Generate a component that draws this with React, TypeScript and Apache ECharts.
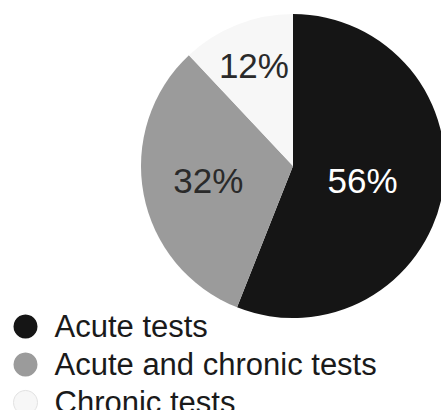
import React, { useEffect, useRef } from "react";
import * as echarts from "echarts";

const categories = ["Acute tests", "Acute and chronic tests", "Chronic tests"];
const values = [56, 32, 12];
const sliceColors = ["#151515", "#9b9b9b", "#f7f7f7"];
const labelColors = ["#ffffff", "#2a2a2a", "#2a2a2a"];
const labelPaddings = [
  [0, 16, 0, 0],
  [0, 14, 0, 0],
  [0, 20, 0, 0],
];
const labelExtraLines = ["", "", "\n\n"];
const labelLineHeights = [35, 35, 27];

export default function App() {
  const ref = useRef<HTMLDivElement>(null);
  useEffect(() => {
    if (!ref.current) return;
    const chart = echarts.init(ref.current, null, { renderer: "svg" });
    const font = "'Liberation Sans', Arial, sans-serif";
    chart.setOption({
      animation: false,
      backgroundColor: "#ffffff",
      legend: {
        orient: "vertical",
        left: 13,
        top: 311,
        height: 150,
        padding: 0,
        itemWidth: 24,
        itemHeight: 24,
        itemGap: 7,
        icon: "circle",
        textStyle: {
          fontFamily: font,
          fontSize: 31,
          lineHeight: 28,
          color: "#1a1a1a",
          padding: [0, 0, 0, 12],
        },
        data: categories.map((c, i) => ({
          name: c,
          itemStyle:
            i === 2 ? { color: "#f7f7f7", borderColor: "#e2e2e2", borderWidth: 1 } : undefined,
        })),
      },
      series: [
        {
          type: "pie",
          center: [293, 166],
          radius: 152,
          startAngle: 90,
          clockwise: true,
          silent: true,
          label: {
            show: true,
            position: "inside",
            fontFamily: font,
            fontSize: 35,
          },
          labelLine: { show: false },
          data: categories.map((c, i) => ({
            name: c,
            value: values[i],
            itemStyle: { color: sliceColors[i] },
            label: {
              color: labelColors[i],
              padding: labelPaddings[i],
              lineHeight: labelLineHeights[i],
              formatter: "{c}%" + labelExtraLines[i],
            },
          })),
        },
      ],
    });
    return () => chart.dispose();
  }, []);
  return (
    <div
      ref={ref}
      style={{ position: "absolute", left: 0, top: 0, width: 441, height: 410 }}
    />
  );
}
